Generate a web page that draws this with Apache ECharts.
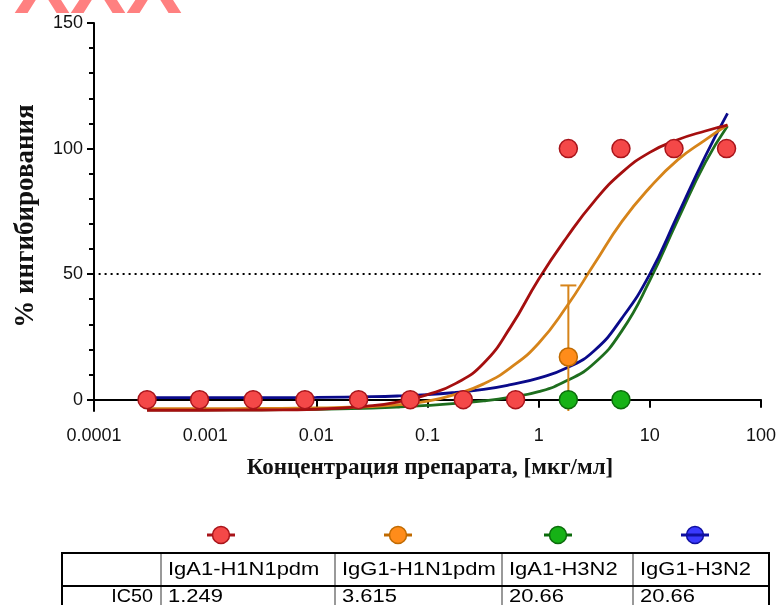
<!DOCTYPE html>
<html>
<head>
<meta charset="utf-8">
<script src="https://cdn.jsdelivr.net/npm/echarts@6/dist/echarts.min.js"></script>
<style>
  html, body { margin: 0; padding: 0; background: #fff; }
  #main { width: 779px; height: 605px; }
</style>
</head>
<body>
<div id="main"></div>
<script>
// axis ticks
var xTickLabels = ['0.0001', '0.001', '0.01', '0.1', '1', '10', '100'];
var yTickValues = [0, 50, 100, 150];
var yMinorTickValues = [10, 20, 30, 40, 60, 70, 80, 90, 110, 120, 130, 140];

// measured points
var concIgA1H1 = [0.0003, 0.00089, 0.0027, 0.0079, 0.024, 0.07, 0.21, 0.62, 1.85, 5.5, 16.5, 49];
var inhibIgA1H1 = [0, 0, 0, 0, 0, 0, 0, 0, 100, 100, 100, 100];
var concIgG1H1 = [1.85];
var inhibIgG1H1 = [17];
var errIgG1H1 = [28.5];
var concIgA1H3 = [1.85, 5.5];
var inhibIgA1H3 = [0, 0];

// fitted curves
var curveConc = [0.0003, 0.001, 0.0032, 0.01, 0.032, 0.056, 0.1, 0.18, 0.32, 0.56, 1, 1.78, 3.16, 5.62, 10, 17.8, 31.6, 50];
var fitIgA1H1 = [-4.2, -4.2, -4.1, -3.8, -2.4, -0.8, 2, 6.5, 14.5, 29, 48, 64.5, 79, 90.5, 98.5, 103.5, 107, 109.3];
var fitIgG1H1 = [-3.6, -3.6, -3.5, -3.3, -2.7, -2.0, -0.6, 2.2, 6.3, 12.8, 22.5, 37, 54, 71, 84.5, 95.5, 103.5, 109.5];
var fitIgA1H3 = [-4, -4, -4, -3.8, -3.3, -2.9, -2.3, -1.5, -0.5, 1.0, 3.2, 7.5, 14.5, 27.5, 47.5, 71.5, 94.5, 109];
var fitIgG1H3 = [0.8, 0.8, 0.8, 0.9, 1.2, 1.5, 2.0, 2.9, 4.1, 6.0, 8.6, 12.6, 19.5, 32.5, 50, 73.5, 97, 114];

// table
var tableHeader = ['', 'IgA1-H1N1pdm', 'IgG1-H1N1pdm', 'IgA1-H3N2', 'IgG1-H3N2'];
var tableRow = ['IC50', '1.249', '3.615', '20.66', '20.66'];

function pairs(xs, ys) {
    var out = [];
    for (var i = 0; i < xs.length; i++) out.push([xs[i], ys[i]]);
    return out;
}

var colRed = {line: '#a50f0f', fill: '#f44848', border: '#a8141a'};
var colOrange = {line: '#d6841a', fill: '#ff8c1a', border: '#c06a00'};
var colGreen = {line: '#1e6e1e', fill: '#16b216', border: '#0b6b0b'};
var colBlue = {line: '#0a0a8a', fill: '#3a3aff', border: '#1010a0'};

function curve(name, data, c) {
    return {
        name: name, type: 'line', data: data, smooth: 0.5, showSymbol: false,
        lineStyle: {color: c.line, width: 2.8}, itemStyle: {color: c.line},
        silent: true, z: 2
    };
}
function dots(name, data, c) {
    return {
        name: name, type: 'scatter', data: data, symbolSize: 18,
        itemStyle: {color: c.fill, borderColor: c.border, borderWidth: 1.5, opacity: 1},
        z: 4
    };
}

var serif = '"Liberation Serif", "Times New Roman", serif';
var sans = '"Liberation Sans", Arial, sans-serif';

// table graphics
var colX = [62, 161, 335, 502, 633, 769];
var tTop = 553, tMid = 586, tBot = 618;
var tableEls = [];
for (var c = 1; c < colX.length - 1; c++) {
    tableEls.push({type: 'line', shape: {x1: colX[c], y1: tTop, x2: colX[c], y2: tBot},
        style: {stroke: '#777', lineWidth: 1.5}});
}
tableEls.push({type: 'line', shape: {x1: colX[0], y1: tMid, x2: colX[5], y2: tMid},
    style: {stroke: '#000', lineWidth: 2}});
tableEls.push({type: 'rect', shape: {x: colX[0], y: tTop, width: colX[5] - colX[0], height: tBot - tTop},
    style: {fill: 'none', stroke: '#000', lineWidth: 2}});
for (var k = 1; k < tableHeader.length; k++) {
    tableEls.push({type: 'text', x: colX[k] + 7, y: 570, scaleX: 1.22,
        style: {text: tableHeader[k], font: '18px ' + sans, fill: '#000', textVerticalAlign: 'middle'}});
    tableEls.push({type: 'text', x: colX[k] + 7, y: 597, scaleX: 1.22,
        style: {text: tableRow[k], font: '18px ' + sans, fill: '#000', textVerticalAlign: 'middle'}});
}
tableEls.push({type: 'text', x: colX[1] - 8, y: 597, scaleX: 1.1,
    style: {text: tableRow[0], font: '18px ' + sans, fill: '#000', textAlign: 'right', textVerticalAlign: 'middle'}});

// legend symbols above the table
var legendPos = [[221, colRed], [398, colOrange], [558, colGreen], [695, colBlue]];
legendPos.forEach(function (p, i) {
    var lineEl = {type: 'line', shape: {x1: p[0] - 14, y1: 535, x2: p[0] + 14, y2: 535},
        style: {stroke: p[1].border, lineWidth: 3}, z: i === 3 ? 12 : 10};
    var circ = {type: 'circle', shape: {cx: p[0], cy: 535, r: 8.5},
        style: {fill: p[1].fill, stroke: p[1].border, lineWidth: 1.5}, z: 11};
    tableEls.push(lineEl, circ);
});

var chart = echarts.init(document.getElementById('main'));
chart.setOption({
    backgroundColor: '#fff',
    animation: false,
    grid: {left: 94, right: 16, top: 23, bottom: 194},
    xAxis: {
        type: 'log', logBase: 10, min: 0.0001, max: 100, splitNumber: 6,
        axisLine: {lineStyle: {color: '#000', width: 2}},
        axisTick: {inside: false, length: 8, lineStyle: {color: '#000', width: 2}},
        axisLabel: {
            margin: 16, color: '#111', fontSize: 18, fontFamily: sans,
            formatter: function (v) { return xTickLabels[Math.round(Math.log10(v)) + 4]; }
        },
        splitLine: {show: false},
        minorTick: {show: false}
    },
    yAxis: [{
        type: 'value', min: -4.5, max: 150,
        axisLine: {show: true, lineStyle: {color: '#000', width: 2}},
        axisTick: {show: true, length: 7, customValues: yTickValues, lineStyle: {color: '#000', width: 2}},
        axisLabel: {customValues: yTickValues, margin: 11, color: '#111', fontSize: 18, fontFamily: sans},
        splitLine: {show: false}
    }, {
        type: 'value', min: -4.5, max: 150, position: 'left',
        axisLine: {show: false},
        axisTick: {show: true, length: 5, customValues: yMinorTickValues, lineStyle: {color: '#000', width: 2}},
        axisLabel: {show: false},
        splitLine: {show: false}
    }],
    series: [
        curve('IgA1-H3N2 fit', pairs(curveConc, fitIgA1H3), colGreen),
        curve('IgG1-H3N2 fit', pairs(curveConc, fitIgG1H3), colBlue),
        curve('IgG1-H1N1pdm fit', pairs(curveConc, fitIgG1H1), colOrange),
        Object.assign(curve('IgA1-H1N1pdm fit', pairs(curveConc, fitIgA1H1), colRed), {
            markLine: {
                silent: true, symbol: 'none', label: {show: false},
                lineStyle: {color: '#000', width: 2, type: [2, 4]},
                data: [[{coord: [0.00011, 50]}, {coord: [100, 50]}]]
            }
        }),
        {
            name: 'IgG1-H1N1pdm err', type: 'custom', clip: true, z: 3,
            data: concIgG1H1.map(function (x, i) { return [x, inhibIgG1H1[i], errIgG1H1[i]]; }),
            renderItem: function (params, api) {
                var x = api.value(0), y = api.value(1), e = api.value(2);
                var top = api.coord([x, y + e]);
                var bot = api.coord([x, y - e]);
                var w = 8;
                var st = {stroke: colOrange.line, lineWidth: 2};
                return {type: 'group', children: [
                    {type: 'line', shape: {x1: top[0], y1: top[1], x2: bot[0], y2: bot[1]}, style: st},
                    {type: 'line', shape: {x1: top[0] - w, y1: top[1], x2: top[0] + w, y2: top[1]}, style: st},
                    {type: 'line', shape: {x1: bot[0] - w, y1: bot[1], x2: bot[0] + w, y2: bot[1]}, style: st}
                ]};
            }
        },
        dots('IgA1-H3N2', pairs(concIgA1H3, inhibIgA1H3), colGreen),
        dots('IgG1-H1N1pdm', pairs(concIgG1H1, inhibIgG1H1), colOrange),
        dots('IgA1-H1N1pdm', pairs(concIgA1H1, inhibIgA1H1), colRed)
    ],
    graphic: [
        {type: 'text', x: 14, y: -10, z: 0,
            style: {text: 'XXX', font: 'bold 84px ' + sans, fill: '#ff8080', textVerticalAlign: 'middle'}},
        {type: 'text', x: 26, y: 216, rotation: Math.PI / 2,
            style: {text: '% ингибирования', font: 'bold 27px ' + serif, fill: '#111',
                textAlign: 'center', textVerticalAlign: 'middle'}},
        {type: 'text', x: 430, y: 468,
            style: {text: 'Концентрация препарата, [мкг/мл]', font: 'bold 23px ' + serif, fill: '#111',
                textAlign: 'center', textVerticalAlign: 'middle'}}
    ].concat(tableEls)
});
</script>
</body>
</html>
